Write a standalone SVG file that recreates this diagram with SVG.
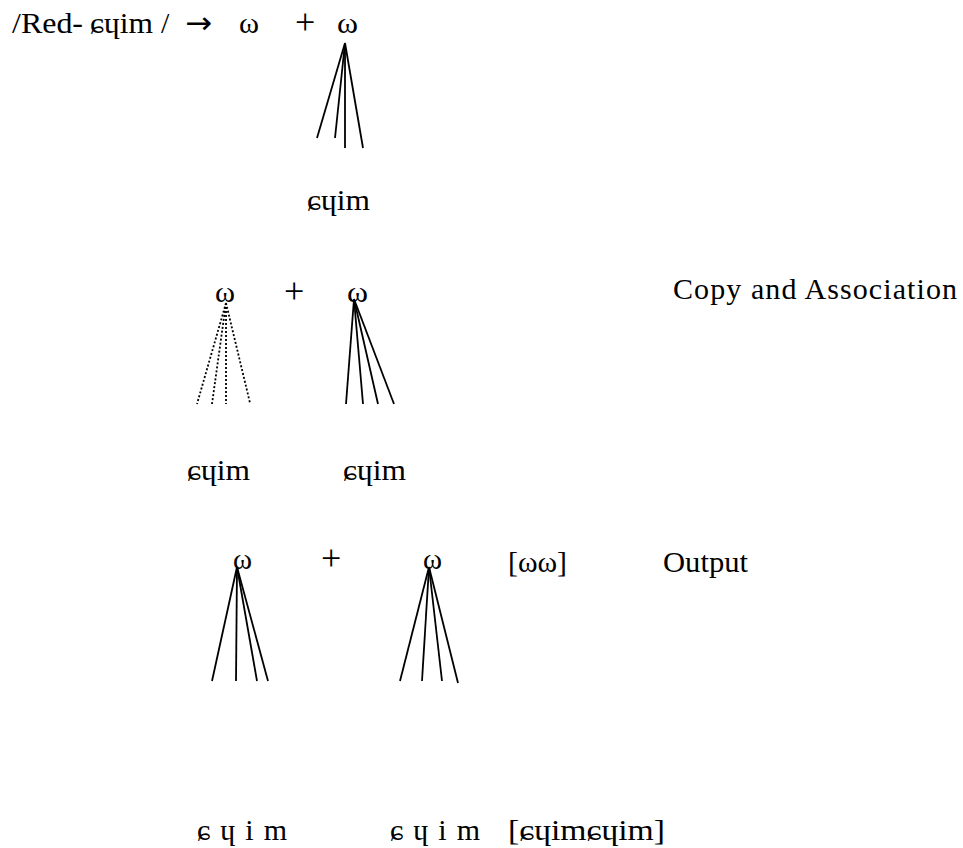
<svg xmlns="http://www.w3.org/2000/svg" width="963" height="848" viewBox="0 0 963 848">
<style>
text{font-family:"Liberation Serif","DejaVu Serif",serif;font-size:30px;fill:#000}
.op{font-size:36px}
.ar{font-family:"DejaVu Sans ExtraLight","DejaVu Sans","Liberation Sans",sans-serif;font-size:30px}
.s{stroke:#000;stroke-width:1.8;fill:none}
.d{stroke:#000;stroke-width:1.8;fill:none;stroke-dasharray:2 2}
</style>
<rect width="963" height="848" fill="#fff"/>
<g id="row1">
<text x="12" y="33" textLength="71" lengthAdjust="spacingAndGlyphs">/Red-</text>
<text x="90" y="33" textLength="63" lengthAdjust="spacingAndGlyphs">ɕɥim</text>
<text x="161" y="33">/</text>
<text class="ar" x="185" y="33" textLength="27" lengthAdjust="spacingAndGlyphs">→</text>
<text x="239" y="33" textLength="20" lengthAdjust="spacingAndGlyphs">ω</text>
<text class="op" x="295" y="34">+</text>
<text x="337" y="33" textLength="21" lengthAdjust="spacingAndGlyphs">ω</text>
</g>
<g id="row1-label">
<text x="307" y="210" textLength="63" lengthAdjust="spacingAndGlyphs">ɕɥim</text>
</g>
<g id="row2">
<text x="215" y="302" textLength="20" lengthAdjust="spacingAndGlyphs">ω</text>
<text class="op" x="284" y="303">+</text>
<text x="347" y="302" textLength="21" lengthAdjust="spacingAndGlyphs">ω</text>
<text x="673" y="299" textLength="284" lengthAdjust="spacing">Copy and Association</text>
</g>
<g id="row2-labels">
<text x="187" y="480" textLength="63" lengthAdjust="spacingAndGlyphs">ɕɥim</text>
<text x="343" y="480" textLength="63" lengthAdjust="spacingAndGlyphs">ɕɥim</text>
</g>
<g id="row3">
<text x="233" y="569" textLength="19" lengthAdjust="spacingAndGlyphs">ω</text>
<text class="op" x="321" y="570">+</text>
<text x="423" y="569" textLength="19" lengthAdjust="spacingAndGlyphs">ω</text>
<text x="508" y="572" textLength="59" lengthAdjust="spacingAndGlyphs">[ωω]</text>
<text x="663" y="572" textLength="85" lengthAdjust="spacingAndGlyphs">Output</text>
</g>
<g id="row3-labels">
<text x="197" y="840" textLength="90" lengthAdjust="spacing">ɕ ɥ i m</text>
<text x="390" y="840" textLength="90" lengthAdjust="spacing">ɕ ɥ i m</text>
<text x="508" y="840" textLength="157" lengthAdjust="spacingAndGlyphs">[ɕɥimɕɥim]</text>
</g>
<g id="connectors">
<line class="s" x1="345" y1="43" x2="317" y2="138"/>
<line class="s" x1="345" y1="43" x2="335" y2="138"/>
<line class="s" x1="345" y1="43" x2="345" y2="148"/>
<line class="s" x1="345" y1="43" x2="363" y2="148"/>
<line class="d" x1="226" y1="303" x2="197" y2="404"/>
<line class="d" x1="226" y1="303" x2="212" y2="404"/>
<line class="d" x1="226" y1="303" x2="226" y2="404"/>
<line class="d" x1="226" y1="303" x2="250" y2="403"/>
<line class="s" x1="354" y1="299" x2="346" y2="404"/>
<line class="s" x1="354" y1="299" x2="363" y2="404"/>
<line class="s" x1="354" y1="299" x2="378" y2="404"/>
<line class="s" x1="354" y1="299" x2="394" y2="404"/>
<line class="s" x1="237" y1="567" x2="212" y2="681"/>
<line class="s" x1="237" y1="567" x2="236" y2="681"/>
<line class="s" x1="237" y1="567" x2="257" y2="681"/>
<line class="s" x1="237" y1="567" x2="268" y2="681"/>
<line class="s" x1="429" y1="567" x2="400" y2="681"/>
<line class="s" x1="429" y1="567" x2="422" y2="681"/>
<line class="s" x1="429" y1="567" x2="442" y2="681"/>
<line class="s" x1="429" y1="567" x2="458" y2="683"/>
</g>
</svg>
